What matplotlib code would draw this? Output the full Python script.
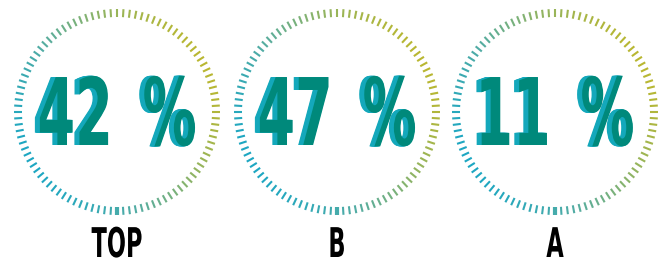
import numpy as np
import matplotlib
matplotlib.use('Agg')
import matplotlib.pyplot as plt
from matplotlib.colors import LinearSegmentedColormap, to_rgba
from matplotlib.collections import LineCollection
from matplotlib.patheffects import AbstractPathEffect
from matplotlib.transforms import Affine2D

# data
values = [42, 47, 11]
labels = ['TOP', 'B', 'A']
n_ticks = 100

# colours
ring_cmap = LinearSegmentedColormap.from_list(
    'ring', ['#1ea7c2', '#52aca4', '#8eb466', '#b9b732'])
face_color = '#00897b'
side_color = '#14a8bb'


class Tall(AbstractPathEffect):
    # stretch the text path upwards from its baseline (gives a condensed look),
    # drawing one copy per (dx, dy) shift in points
    def __init__(self, sy=1.7, shifts=((0, 0),), color=None):
        super().__init__()
        self.sy = sy
        self.shifts = shifts
        self.color = color

    def draw_path(self, renderer, gc, tpath, affine, rgbFace=None):
        stretch = Affine2D().scale(1, self.sy)
        face = to_rgba(self.color) if self.color is not None else rgbFace
        gc0 = renderer.new_gc()
        gc0.copy_properties(gc)
        for dx, dy in self.shifts:
            shift = Affine2D().translate(renderer.points_to_pixels(dx),
                                         renderer.points_to_pixels(dy))
            renderer.draw_path(gc0, tpath, stretch + affine + shift, face)
        gc0.restore()


fig = plt.figure(figsize=(6.63, 2.63), dpi=100)
ax = fig.add_axes([0, 0, 1, 1])
ax.set_xlim(0, 663)
ax.set_ylim(263, 0)
ax.axis('off')

centers_x = [117, 337, 555]
cy = 112
r_out, r_in = 103, 95
grad_dir = np.deg2rad(30)

theta = np.deg2rad(-90 + np.arange(n_ticks) * 360 / n_ticks)
t = (np.cos(theta - grad_dir) + 1) / 2
colors = ring_cmap(t)

side_shifts = [(-s, 0) for s in np.linspace(0.4, 3.6, 9)]

for cx, val, lab in zip(centers_x, values, labels):
    segs = [[(cx + r_in * np.cos(a), cy - r_in * np.sin(a)),
             (cx + r_out * np.cos(a), cy - r_out * np.sin(a))] for a in theta]
    widths = [1.5] * n_ticks
    widths[0] = 3.0
    ax.add_collection(LineCollection(segs, colors=colors, linewidths=widths,
                                     capstyle='butt'))

    ax.text(cx, 145, f'{val} \u2009%', ha='center', va='baseline',
            fontsize=39, fontweight='bold', color=face_color,
            path_effects=[Tall(1.72, side_shifts, side_color), Tall(1.72)])

    ax.text(cx, 257, lab, ha='center', va='baseline', fontsize=16.2,
            fontweight='bold', color='black', path_effects=[Tall(1.82)])

plt.savefig('out.png', dpi=100)
